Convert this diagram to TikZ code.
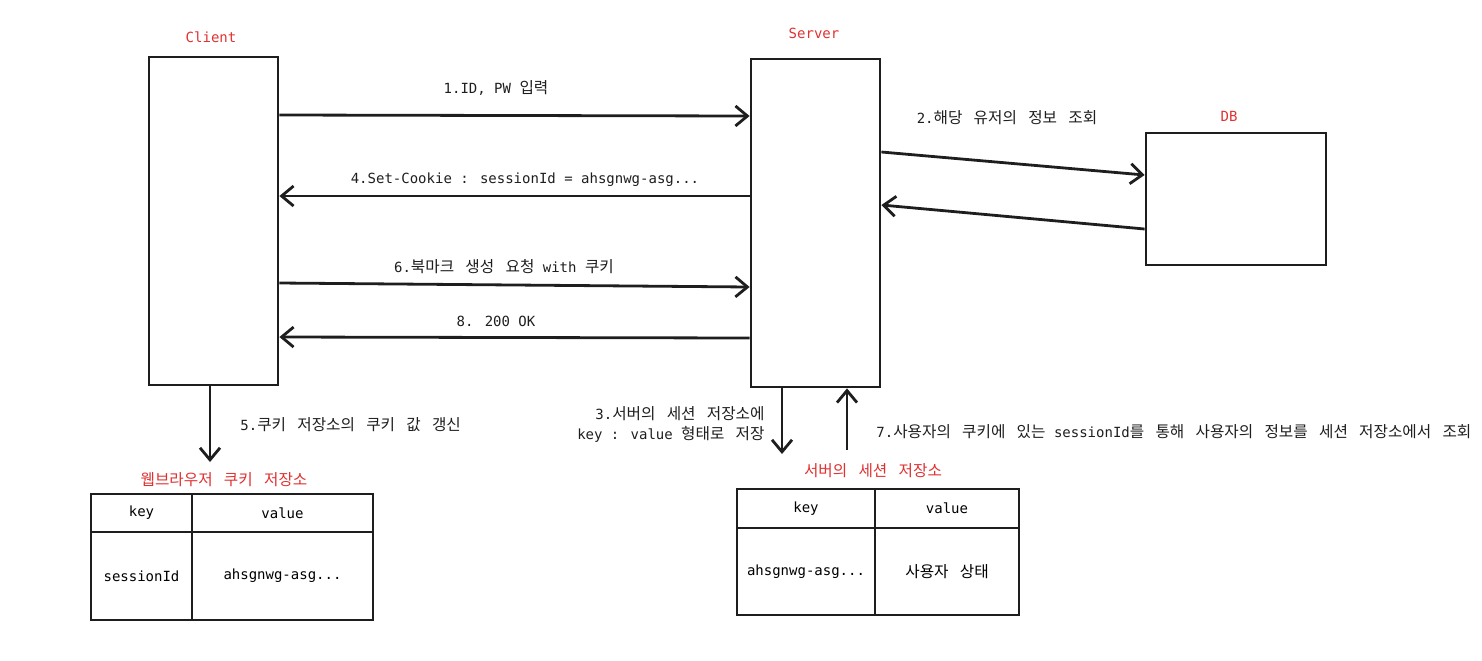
\documentclass[tikz,border=0pt]{standalone}
\usepackage{fontspec}
\setmainfont{DejaVu Sans Mono}
\newfontfamily\kr[Scale=1.12,WordSpace=3.2]{Noto Sans CJK KR}
\usetikzlibrary{positioning,arrows.meta}
\definecolor{ink}{HTML}{1E1E1E}
\definecolor{tagred}{HTML}{E03131}

\tikzset{
  box/.style={draw=ink,line width=1.4pt,inner sep=0pt},
  cell/.style={draw=ink,line width=1.4pt,inner sep=0pt},
  msg/.style={draw=ink,line width=1.4pt,-{Straight Barb[length=6pt,width=10pt]}},
  tag/.style={text=tagred,inner sep=0pt},
  lbl/.style={text=ink,inner sep=0pt},
}

\begin{document}
\begin{tikzpicture}[x=0.5pt,y=-0.5pt,every node/.style={font=\fontsize{7}{10}\selectfont}]
\useasboundingbox (0,0) rectangle (1482,660);
% actors
\node[box,minimum width=64.5pt,minimum height=164pt] (client) at (213.5,221) {};
\node[box,minimum width=64.5pt,minimum height=164pt] (server) at (815.5,223) {};
\node[box,minimum width=90pt,minimum height=66pt] (db) at (1236,199) {};
\node[tag] (clienttag) at (211,37) {Client};
\node[tag] (servertag) at (814,33) {Server};
\node[tag] (dbtag) at (1229,116) {DB};

% requests / responses
\draw[msg] (client.east |- 0,115) -- (server.west |- 0,116);
\node[lbl] (m1) at (496,88) {1.ID, PW {\kr 입력}};
\draw[msg] (server.west |- 0,196) -- (client.east |- 0,196);
\node[lbl] (m4) at (525,180) {4.Set-Cookie : sessionId = ahsgnwg-asg...};
\draw[msg] (client.east |- 0,283) -- (server.west |- 0,287);
\node[lbl] (m6) at (504,267) {6.{\kr 북마크 생성 요청} with {\kr 쿠키}};
\draw[msg] (server.west |- 0,338) -- (client.east |- 0,337);
\node[lbl] (m8) at (496,321) {8. 200 OK};

% server <-> db
\draw[msg] (server.east |- 0,152) -- (db.west |- 0,175);
\draw[msg] (db.west |- 0,229) -- (server.east |- 0,205);
\node[lbl] (m2) at (1007,118) {2.{\kr 해당 유저의 정보 조회}};

% cookie storage
\node[tag] (cktag) at (224,480) {\kr 웹브라우저 쿠키 저장소};
\draw[msg] (210,0 |- client.south) -- (210,462);
\node[lbl,anchor=west] (m5) at (240,425) {5.{\kr 쿠키 저장소의 쿠키 값 갱신}};
\node[cell,minimum width=50.5pt,minimum height=19pt] (ckkeyh) at (141.5,513) {key};
\node[cell,minimum width=90.5pt,minimum height=19pt] (ckvalh) at (282.5,513) {value};
\node[cell,minimum width=50.5pt,minimum height=44pt] (ckkey) at (141.5,576) {sessionId};
\node[cell,minimum width=90.5pt,minimum height=44pt] (ckval) at (282.5,576) {ahsgnwg-asg...};

% session storage
\node[tag] (svtag) at (873,471) {\kr 서버의 세션 저장소};
\draw[msg] (782,0 |- server.south) -- (782,454);
\node[lbl,anchor=east,align=right] (m3) at (765,424) {3.{\kr 서버의 세션 저장소에}\\ key : value {\kr 형태로 저장}};
\draw[msg] (847,450) -- (847,0 |- server.south);
\node[lbl,anchor=west] (m7) at (876,432) {7.{\kr 사용자의 쿠키에 있는} sessionId{\kr 를 통해 사용자의 정보를 세션 저장소에서 조회}};
\node[cell,minimum width=69pt,minimum height=19.5pt] (svkeyh) at (806,508.5) {key};
\node[cell,minimum width=72pt,minimum height=19.5pt] (svvalh) at (947,508.5) {value};
\node[cell,minimum width=69pt,minimum height=43.5pt] (svkey) at (806,571.5) {ahsgnwg-asg...};
\node[cell,minimum width=72pt,minimum height=43.5pt] (svval) at (947,571.5) {\kr 사용자 상태};
\end{tikzpicture}
\end{document}
